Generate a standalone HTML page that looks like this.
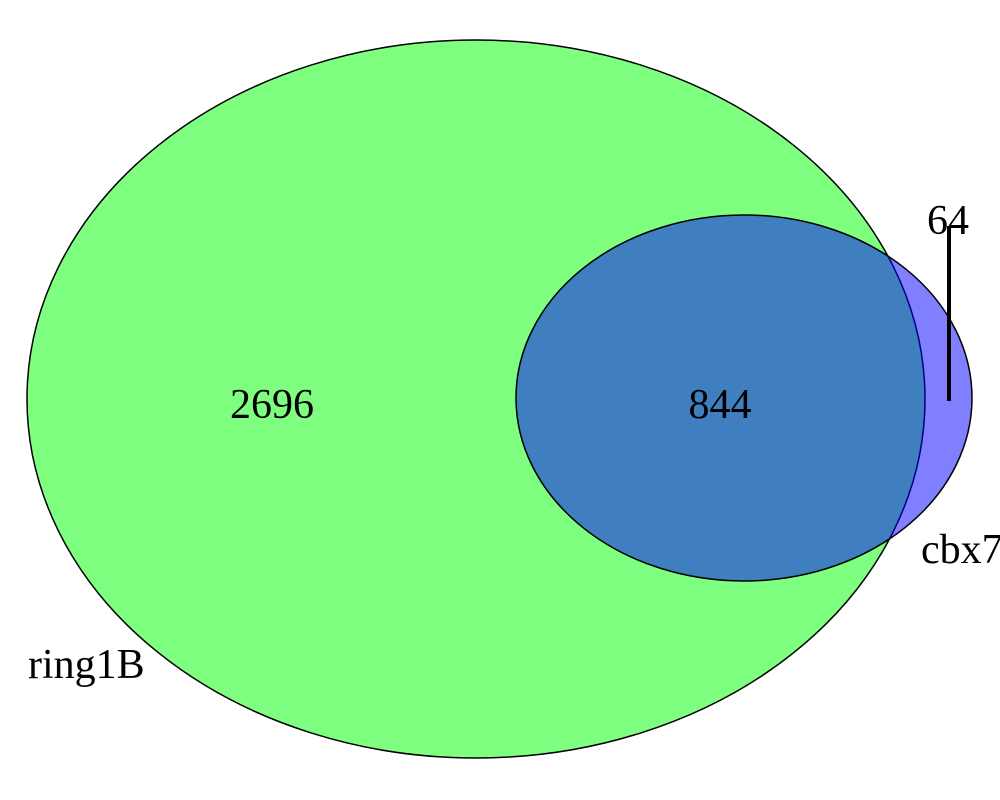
<!DOCTYPE html>
<html>
<head>
<meta charset="utf-8">
<style>
html,body{margin:0;padding:0;background:#fff;}
svg{display:block;}
text{font-family:"Liberation Serif",serif;font-size:42px;fill:#000;}
</style>
</head>
<body>
<svg id="venn" width="1000" height="800">
  <ellipse cx="476" cy="399" rx="449" ry="359" fill="#00ff00" fill-opacity="0.5" stroke="#000" stroke-width="1.5"/>
  <ellipse cx="744" cy="398" rx="228" ry="183" fill="#0000ff" fill-opacity="0.5" stroke="#000" stroke-width="1.5"/>
  <text x="28" y="678">ring1B</text>
  <text x="921" y="563">cbx7</text>
</svg>
<script>
const regionNames = ["ring1b-only", "overlap", "cbx7-only"];
const counts = [2696, 844, 64];
const labelX = [272, 720, 948];
const labelY = [418, 418, 234];
const svg = document.getElementById('venn');
for (let i = 0; i < counts.length; i++) {
  const t = document.createElementNS('http://www.w3.org/2000/svg', 'text');
  t.setAttribute('x', labelX[i]);
  t.setAttribute('y', labelY[i]);
  t.setAttribute('text-anchor', 'middle');
  t.textContent = counts[i];
  
  
  svg.appendChild(t);
}
const ln = document.createElementNS('http://www.w3.org/2000/svg', 'line');
ln.setAttribute('x1', 949); ln.setAttribute('y1', 226);
ln.setAttribute('x2', 949); ln.setAttribute('y2', 401);
ln.setAttribute('stroke', '#000'); ln.setAttribute('stroke-width', 4);


svg.appendChild(ln);
</script>
</body>
</html>
